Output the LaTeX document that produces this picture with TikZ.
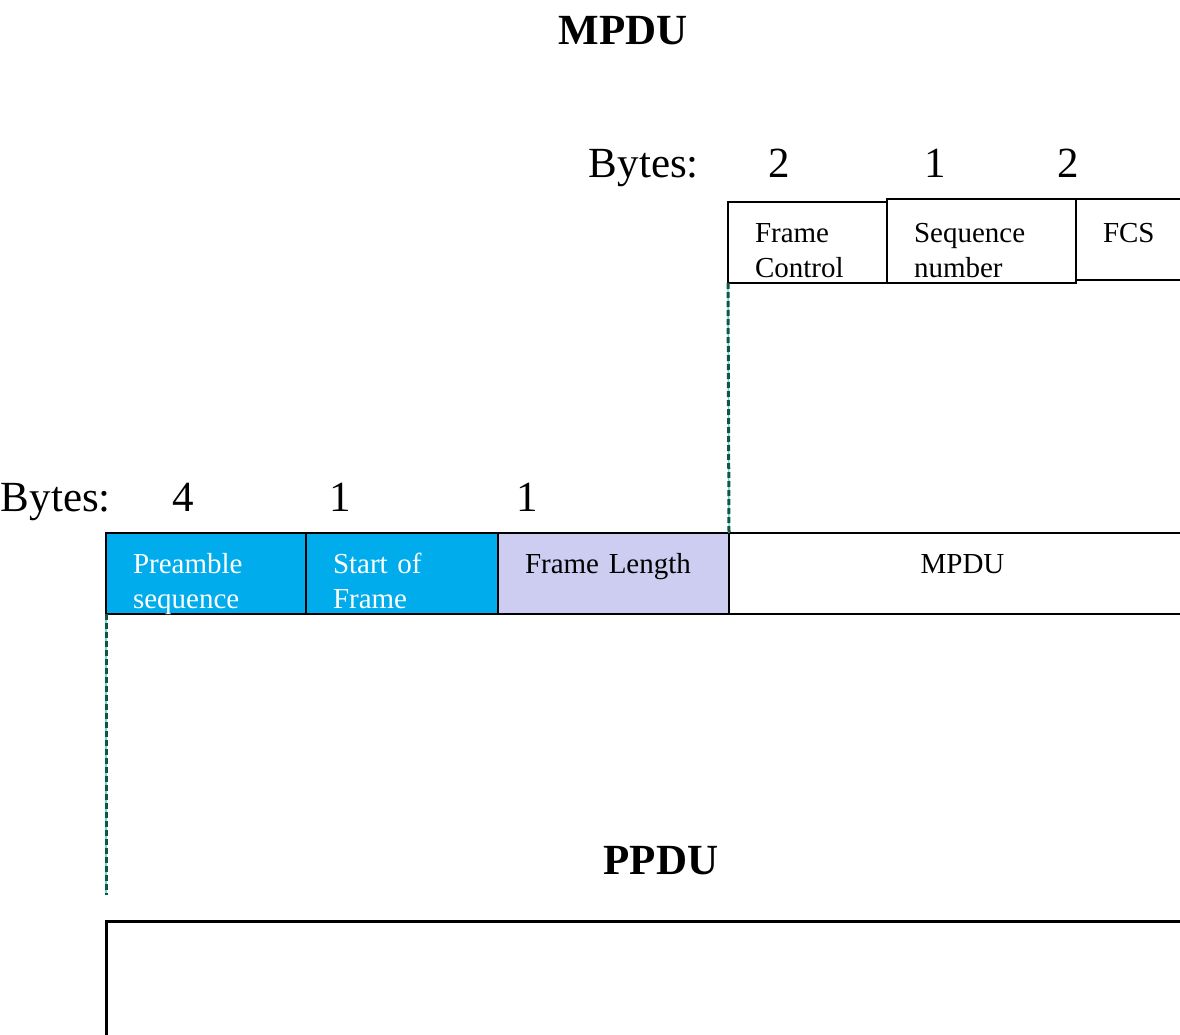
\documentclass[tikz,border=0pt]{standalone}
\usepackage{fontspec}
\setmainfont{Liberation Serif}
\usetikzlibrary{positioning}

\definecolor{sofblue}{RGB}{0,172,236}
\definecolor{lenlilac}{RGB}{205,205,242}
\definecolor{guidegreen}{RGB}{20,85,65}
\definecolor{guidecyan}{RGB}{90,225,215}

\begin{document}
\begin{tikzpicture}[
  x=1pt, y=-1pt,
  hdr/.style={font=\fontsize{43}{50}\selectfont\bfseries,anchor=base,inner sep=0pt},
  num/.style={font=\fontsize{43}{50}\selectfont,anchor=base,inner sep=0pt},
  field/.style={draw,line width=2.6pt,outer sep=0pt,inner xsep=27pt,inner ysep=0pt,
                align=left,font=\fontsize{29}{35}\selectfont,
                text height=40pt,text depth=41pt},
  blue field/.style={field,fill=sofblue,text=white},
  guide/.style={draw=guidegreen,line width=3pt,dash pattern=on 6pt off 3pt,
                preaction={draw=guidecyan,solid,line width=1.4pt,xshift=1.2pt}}]

\useasboundingbox (0,0) rectangle (1180,1035);
\clip (0,0) rectangle (1180,1035);

% --- MPDU: header fields ---
\node[hdr] (mpdutitle) at (623,45) {MPDU};

\node[num,anchor=base east] (bytestop) at (699,178) {Bytes:};
\node[num] (fcbytes) at (779,178) {2};
\node[num] (sqbytes) at (935,178) {1};
\node[num] (fcsbytes) at (1068,178) {2};

\node[field,anchor=north west,text width=105pt] (fc) at (728,202)
  {Frame\\Control};
\node[field,anchor=south west,text width=135pt,text height=43pt] (sq) at (fc.south east)
  {Sequence\\number};
\node[field,anchor=north west,text width=116pt,text height=43pt,text depth=38pt]
  (fcs) at (sq.north east) {FCS};

% --- PPDU: fields, left to right ---
\node[num,anchor=base east] (byteslow) at (111,511) {Bytes:};
\node[num] (prebytes) at (183,511) {4};
\node[num] (sofbytes) at (340,511) {1};
\node[num] (flbytes) at (527,511) {1};

\node[blue field,anchor=north west,text width=146pt] (pre) at (106,533)
  {Preamble\\sequence};
\node[blue field,right=0pt of pre,text width=138pt] (sof)
  {Start of\\Frame};
\node[field,fill=lenlilac,right=0pt of sof,text width=177pt] (fl)
  {Frame Length};
\node[field,right=0pt of fl,align=center,text width=413pt] (mpdu)
  {MPDU};

\node[hdr] (ppdutitle) at (661,874) {PPDU};
\node[draw,line width=3pt,outer sep=0pt,anchor=north west,
      minimum width=1120pt,minimum height=160pt] (ppdu) at (106,921) {};

% --- dashed guides ---
\coordinate (gend) at ([yshift=26pt]ppdu.north west);
\draw[guide] (fc.south west) -- (mpdu.north west);
\draw[guide] (pre.south west) -- (gend);   % stops short of the PPDU box

\end{tikzpicture}
\end{document}
